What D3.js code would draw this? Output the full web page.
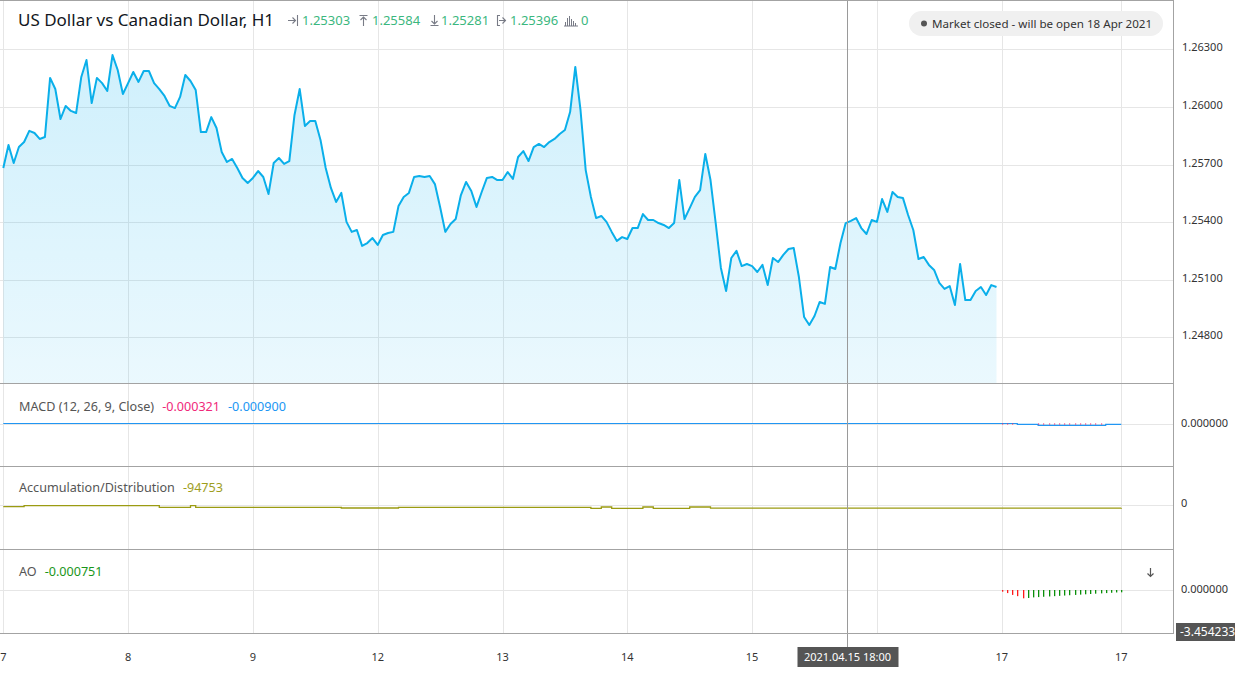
<!DOCTYPE html>
<html><head><meta charset="utf-8">
<script src="https://cdn.jsdelivr.net/npm/d3@7"></script>
<style>
body{margin:0;background:#fff;}
svg{display:block;font-family:'Noto Sans',sans-serif;}
</style>
</head><body>
<svg id="c" width="1235" height="673"></svg>
<script>
// ---------------- DATA ----------------
const priceValues = [
1.25682,1.25802,1.25708,1.25791,1.25817,1.25875,1.25864,1.25833,1.25843,1.26151,
1.26093,1.25937,1.26005,1.25979,1.25968,1.26156,1.26244,1.26020,1.26151,1.26124,
1.26083,1.26270,1.26192,1.26067,1.26124,1.26182,1.26130,1.26187,1.26187,1.26124,
1.26093,1.26057,1.26005,1.25994,1.26052,1.26166,1.26135,1.26088,1.25869,1.25869,
1.25947,1.25890,1.25765,1.25713,1.25729,1.25682,1.25630,1.25604,1.25630,1.25666,
1.25635,1.25546,1.25708,1.25734,1.25703,1.25718,1.25958,1.26093,1.25901,1.25927,
1.25927,1.25828,1.25682,1.25578,1.25505,1.25552,1.25401,1.25349,1.25359,1.25276,
1.25291,1.25317,1.25281,1.25333,1.25343,1.25349,1.25484,1.25531,1.25552,1.25635,
1.25640,1.25635,1.25640,1.25598,1.25479,1.25349,1.25390,1.25416,1.25541,1.25609,
1.25562,1.25479,1.25557,1.25630,1.25635,1.25619,1.25619,1.25661,1.25625,1.25739,
1.25770,1.25718,1.25791,1.25807,1.25791,1.25817,1.25833,1.25859,1.25880,1.25973,
1.26208,1.25984,1.25671,1.25531,1.25421,1.25432,1.25401,1.25349,1.25302,1.25322,
1.25312,1.25369,1.25369,1.25442,1.25411,1.25411,1.25395,1.25385,1.25369,1.25395,
1.25619,1.25416,1.25473,1.25531,1.25567,1.25755,1.25619,1.25395,1.25161,1.25041,
1.25213,1.25250,1.25171,1.25182,1.25171,1.25140,1.25177,1.25072,1.25213,1.25192,
1.25229,1.25260,1.25265,1.25114,1.24906,1.24864,1.24911,1.24984,1.24974,1.25166,
1.25156,1.25291,1.25395,1.25406,1.25421,1.25369,1.25338,1.25411,1.25401,1.25520,
1.25453,1.25557,1.25531,1.25526,1.25437,1.25359,1.25208,1.25218,1.25177,1.25151,
1.25083,1.25052,1.25067,1.24968,1.25182,1.24994,1.24994,1.25041,1.25062,1.25020,
1.25072,1.25062
];
const priceTicks = [1.248, 1.251, 1.254, 1.257, 1.260, 1.263];
const dayTickIdx = [0, 24, 48, 72, 96, 120, 144, 168, 192, 215];
// the "16" label is hidden behind the crosshair time label in the reference
const dayTickLabels = ["7", "8", "9", "12", "13", "14", "15", "", "17", "17"];
const crosshairIdx = 162;
const crosshairLabel = "2021.04.15 18:00";

const titleText = "US Dollar vs Canadian Dollar, H1";
const ohlcValues = ["1.25303", "1.25584", "1.25281", "1.25396"];
const volumeValue = "0";
const marketText = "Market closed - will be open 18 Apr 2021";

// MACD (step line + histogram)
const macdIdx = [0, 195, 199, 212, 215];
const macdVal = [0, -0.0004, -0.0009, -0.0004, -0.0004];
const macdHistIdx = [192,193,194,199,200,201,202,203,204,205,206,207,208,209,210,211];
const macdHistVal = [-0.0003,-0.0003,-0.0003,-0.0003,-0.0003,-0.0003,-0.0003,-0.0003,-0.0003,-0.0003,-0.0003,-0.0003,-0.0003,-0.0003,-0.0003,-0.0003];
const macdLegend = ["-0.000321", "-0.000900"];

// Accumulation / Distribution (step line)
const adIdx = [0, 4, 30, 36, 37, 65, 76, 113, 115, 117, 123, 125, 132, 136, 215];
const adVal = [-45000, -10000, -70000, -10000, -70000, -95000, -70000, -105000, -60000, -105000, -60000, -105000, -60000, -100000, -94753];
const adLegend = "-94753";

// Awesome Oscillator histogram (starting at index 192)
const aoStartIdx = 192;
const aoVal = [-0.00055,-0.0010,-0.0016,-0.0020,-0.0027,-0.0026,-0.0024,-0.0023,-0.0022,-0.0021,
               -0.0020,-0.0019,-0.0018,-0.0017,-0.0016,-0.0015,-0.0014,-0.0013,-0.0012,-0.0011,
               -0.0010,-0.0009,-0.0008,-0.00075];
const aoLegend = "-0.000751";

// ---------------- LAYOUT ----------------
const plotR = 1173;
const panes = {price:[1,383], macd:[384,466], ad:[467,549], ao:[550,633]};
const svg = d3.select('#c');
svg.append('rect').attr('width',1235).attr('height',673).attr('fill','#fff');

const x = d3.scaleLinear().domain([0,192]).range([3.3,1001.7]);
const yP = d3.scaleLinear().domain([1.248,1.263]).range([337.3,49.3]);
const yM = d3.scaleLinear().domain([-(466-423.5)*0.0005,(423.5-384)*0.0005]).range([466,384]);
const yAD = d3.scaleLinear().domain([-(549-505.3)*35000,(505.3-467)*35000]).range([549,467]);
const yAO = d3.scaleLinear().domain([-(633-590)*0.000325,(590-550)*0.000325]).range([633,550]);

const gridC = '#e6e6e6', sepC = '#a3a3a3';
const px = v => Math.round(v)+0.5;

// horizontal grid (price)
svg.append('g').selectAll('line').data(priceTicks).join('line')
  .attr('x1',0).attr('x2',plotR).attr('y1',d=>px(yP(d))).attr('y2',d=>px(yP(d)))
  .attr('stroke',gridC);
// zero lines sub panes
[[yM,0],[yAD,0],[yAO,0]].forEach(([s,v])=>{
  svg.append('line').attr('x1',0).attr('x2',plotR).attr('y1',px(s(v))).attr('y2',px(s(v))).attr('stroke',gridC);
});
// vertical grid
svg.append('g').selectAll('line').data(dayTickIdx).join('line')
  .attr('x1',d=>px(x(d))).attr('x2',d=>px(x(d))).attr('y1',1).attr('y2',633)
  .attr('stroke',gridC);

// area + line
const defs = svg.append('defs');
const grad = defs.append('linearGradient').attr('id','ag')
  .attr('gradientUnits','userSpaceOnUse').attr('x1',0).attr('x2',0).attr('y1',50).attr('y2',383);
grad.append('stop').attr('offset',0).attr('stop-color','#00aeef').attr('stop-opacity',0.19);
grad.append('stop').attr('offset',1).attr('stop-color','#00aeef').attr('stop-opacity',0.08);

const area = d3.area().x((d,i)=>x(i)).y0(panes.price[1]).y1(d=>yP(d));
svg.append('path').datum(priceValues).attr('d',area).attr('fill','url(#ag)');
const line = d3.line().x((d,i)=>x(i)).y(d=>yP(d));
svg.append('path').datum(priceValues).attr('d',line).attr('fill','none')
  .attr('stroke','#0aafea').attr('stroke-width',2).attr('stroke-linejoin','round');

// MACD
const stepLine = (ys) => d3.line().x(d=>x(d[0])).y(d=>ys(d[1])).curve(d3.curveStepAfter);
svg.append('path').datum(macdIdx.map((d,i)=>[d,macdVal[i]])).attr('d',stepLine(yM))
  .attr('fill','none').attr('stroke','#2196f3').attr('stroke-width',1.2);
svg.append('g').selectAll('rect').data(macdHistIdx).join('rect')
  .attr('x',d=>Math.round(x(d))).attr('width',1.2)
  .attr('y',(d,i)=>Math.min(yM(0),yM(macdHistVal[i])))
  .attr('height',(d,i)=>Math.max(1,Math.abs(yM(macdHistVal[i])-yM(0))))
  .attr('fill','#f2226e');

// A/D
svg.append('path').datum(adIdx.map((d,i)=>[d,adVal[i]])).attr('d',stepLine(yAD))
  .attr('fill','none').attr('stroke','#9b9b12').attr('stroke-width',1.3);

// AO
svg.append('g').selectAll('rect').data(aoVal).join('rect')
  .attr('x',(d,i)=>Math.round(x(aoStartIdx+i))).attr('width',1.3)
  .attr('y',d=>Math.min(yAO(0),yAO(d)))
  .attr('height',d=>Math.abs(yAO(d)-yAO(0)))
  .attr('fill',(d,i)=> (i>0 && d>aoVal[i-1]) ? '#0a8f0a' : '#ff1a1a');

// crosshair
svg.append('line').attr('x1',px(x(crosshairIdx))+1).attr('x2',px(x(crosshairIdx))+1)
  .attr('y1',0).attr('y2',647).attr('stroke','#9a9a9a');

// separators / borders
[0.5, 383.5, 466.5, 549.5, 633.5].forEach(y=>{
  svg.append('line').attr('x1',0).attr('x2',plotR+0.5).attr('y1',y).attr('y2',y).attr('stroke',sepC);
});
svg.append('line').attr('x1',plotR+0.5).attr('x2',plotR+0.5).attr('y1',0).attr('y2',634).attr('stroke',sepC);

// right price axis
const axP = d3.axisRight(yP).tickValues(priceTicks).tickFormat(d3.format('.5f')).tickSize(0).tickPadding(9);
const gP = svg.append('g').attr('transform',`translate(${plotR},-2)`).call(axP);
gP.select('.domain').remove();
gP.selectAll('text').attr('font-size',11).attr('fill','#333').attr('font-family',"'Noto Sans',sans-serif");

// sub-pane axis labels
const subLab = (txt,y)=>svg.append('text').attr('x',1181).attr('y',y).attr('dy','0.35em')
  .attr('font-size',11).attr('fill','#333').text(txt);
subLab('0.000000', yM(0));
subLab('0', 503);
subLab('0.000000', yAO(0)-1);
svg.append('rect').attr('x',1176).attr('y',623).attr('width',60).attr('height',18).attr('fill','#555');
svg.append('text').attr('x',1180).attr('y',632).attr('dy','0.35em').attr('font-size',12).attr('fill','#fff').text('-3.454233');

// x axis labels
svg.append('g').selectAll('text').data(dayTickIdx).join('text')
  .attr('x',d=>x(d)).attr('y',661).attr('text-anchor','middle')
  .attr('font-size',11).attr('fill','#333').text((d,i)=>dayTickLabels[i]);
const cx = px(x(crosshairIdx))+1;
svg.append('rect').attr('x',cx-50).attr('y',647).attr('width',101).attr('height',20).attr('fill','#555');
svg.append('text').attr('x',cx).attr('y',661).attr('text-anchor','middle')
  .attr('font-size',11).attr('fill','#fff').text(crosshairLabel);

// header
svg.append('text').attr('x',18).attr('y',26).attr('font-size',17).attr('fill','#131722').text(titleText);
const green = '#3bb77e', icoC = '#787b86';
const ohlcX = [302, 372, 441, 510];
ohlcValues.forEach((v,i)=>{
  svg.append('text').attr('x',ohlcX[i]).attr('y',25).attr('font-size',13).attr('fill',green).text(v);
});
const icons = [
  "M288 20.5h7 M292.5 17.5l3 3-3 3 M297.5 15v11",
  "M359.5 15.5h8 M363.5 26v-9 M360.5 20l3-3 3 3",
  "M430.5 25.5h8 M434.5 15v9 M431.5 21l3 3 3-3",
  "M500 15.5h-2.5v10h2.5 M499 20.5h6 M502.5 17.5l3 3-3 3"
];
icons.forEach(d=>svg.append('path').attr('d',d).attr('fill','none').attr('stroke',icoC).attr('stroke-width',1.1));
// volume bars icon
const volBars = [[565,22],[567,18],[569,16],[571,19],[573,21],[575,23]];
volBars.forEach(([bx,by])=>svg.append('line').attr('x1',bx+0.5).attr('x2',bx+0.5).attr('y1',by).attr('y2',26).attr('stroke',icoC));
svg.append('line').attr('x1',564).attr('x2',578).attr('y1',26).attr('y2',26).attr('stroke',icoC);
svg.append('text').attr('x',581).attr('y',25).attr('font-size',13).attr('fill',green).text(volumeValue);

// market closed badge
svg.append('rect').attr('x',909).attr('y',11).attr('width',254).attr('height',25).attr('rx',12.5).attr('fill','#f0f0f0');
svg.append('circle').attr('cx',924).attr('cy',23.5).attr('r',3).attr('fill','#555');
svg.append('text').attr('x',932).attr('y',23.5).attr('dy','0.35em').attr('font-size',11.6).attr('fill','#333').text(marketText);

// pane legends
const leg = (parts,y)=>{
  const t = svg.append('text').attr('x',19).attr('y',y).attr('dy','0.35em').attr('font-size',12.6);
  parts.forEach(([s,c],i)=>t.append('tspan').attr('fill',c).attr('dx',i?8:0).text(s));
};
leg([['MACD (12, 26, 9, Close)','#555'],[macdLegend[0],'#f0287a'],[macdLegend[1],'#2196f3']],406.5);
leg([['Accumulation/Distribution','#555'],[adLegend,'#9e9e1e']],488);
leg([['AO','#555'],[aoLegend,'#1a961a']],572);

// AO arrow icon
svg.append('path').attr('d','M1150.5 568v8 M1147.5 573.5l3 3 3-3').attr('fill','none').attr('stroke','#555').attr('stroke-width',1.2);
</script>
</body></html>
